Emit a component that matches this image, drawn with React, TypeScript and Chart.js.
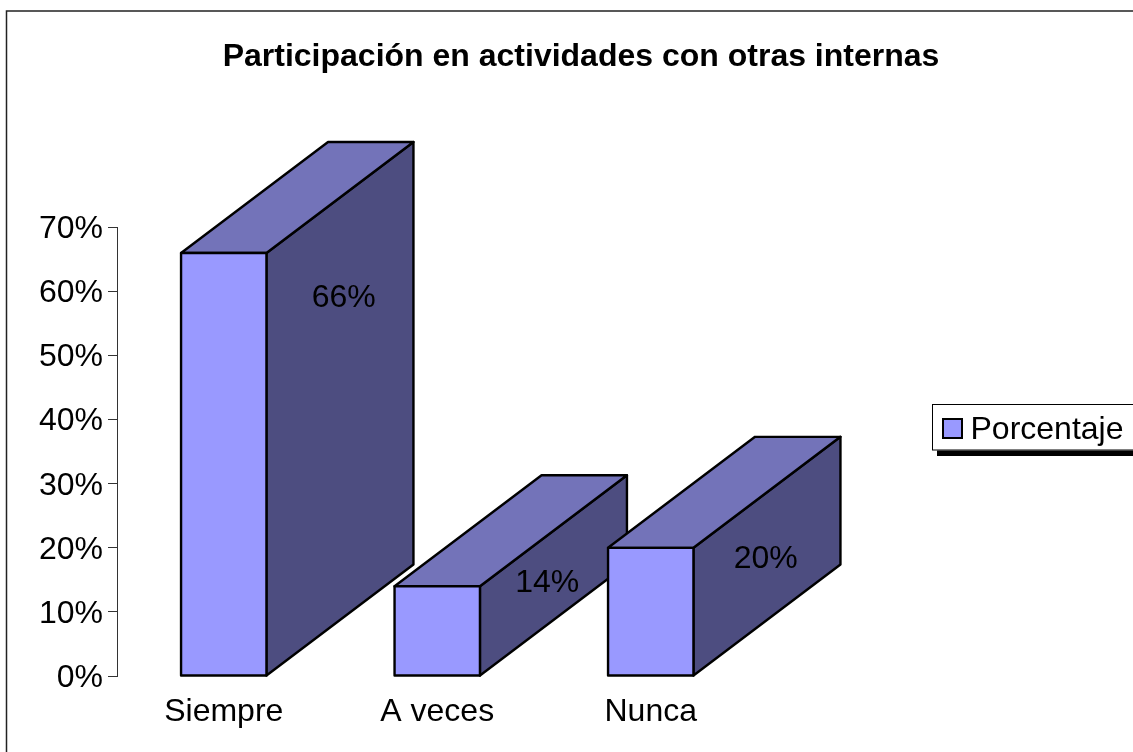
import React, { useEffect, useRef } from "react";
import { Chart, registerables } from "chart.js";

Chart.register(...registerables);

const categories = ["Siempre", "A veces", "Nunca"];
const percentages = [66, 14, 20];
const seriesName = "Porcentaje";
const chartTitle = "Participación en actividades con otras internas";

const FONT = "'Liberation Sans', Arial, sans-serif";
const FRONT = "#9999FF";
const TOP = "#7373B9";
const SIDE = "#4D4D80";
const DEPTH_X = 147;
const DEPTH_Y = 111;
const EDGE = 2.4;
const labelNudge = [
  { dx: 120, dy: 45 },
  { dx: 110, dy: -3 },
  { dx: 115, dy: 11 },
];

const framePlugin = {
  id: "frame",
  beforeDraw(chart: any) {
    const { ctx, width, height } = chart;
    ctx.save();
    ctx.fillStyle = "#fff";
    ctx.fillRect(0, 0, width, height);
    ctx.strokeStyle = "#222";
    ctx.lineWidth = 1.5;
    ctx.strokeRect(6.5, 11, width + 20, height + 20);
    ctx.restore();
  },
  afterLayout(chart: any) {
    // the title is centred over the whole picture, not over the plot
    if (chart.titleBlock) {
      chart.titleBlock.left = 29;
      chart.titleBlock.right = chart.width;
    }
  },
};

const faces3dPlugin = {
  id: "faces3d",
  beforeDatasetsDraw(chart: any) {
    const { ctx } = chart;
    const bars = chart.getDatasetMeta(0).data;
    ctx.save();
    ctx.strokeStyle = "#000";
    ctx.lineWidth = EDGE;
    ctx.lineJoin = "round";
    bars.forEach((bar: any) => {
      const { x, y, base, width } = bar.getProps(["x", "y", "base", "width"], true);
      const l = x - width / 2;
      const r = x + width / 2;
      ctx.fillStyle = SIDE;
      ctx.beginPath();
      ctx.moveTo(r, y);
      ctx.lineTo(r + DEPTH_X, y - DEPTH_Y);
      ctx.lineTo(r + DEPTH_X, base - DEPTH_Y);
      ctx.lineTo(r, base);
      ctx.closePath();
      ctx.fill();
      ctx.stroke();
      ctx.fillStyle = TOP;
      ctx.beginPath();
      ctx.moveTo(l, y);
      ctx.lineTo(l + DEPTH_X, y - DEPTH_Y);
      ctx.lineTo(r + DEPTH_X, y - DEPTH_Y);
      ctx.lineTo(r, y);
      ctx.closePath();
      ctx.fill();
      ctx.stroke();
    });
    ctx.restore();
  },
  afterDatasetsDraw(chart: any) {
    const { ctx } = chart;
    const bars = chart.getDatasetMeta(0).data;
    ctx.save();
    ctx.strokeStyle = "#000";
    ctx.lineWidth = EDGE;
    ctx.lineJoin = "round";
    bars.forEach((bar: any) => {
      const { x, y, base, width } = bar.getProps(["x", "y", "base", "width"], true);
      ctx.strokeRect(x - width / 2, y, width, base - y);
    });
    ctx.font = `32px ${FONT}`;
    ctx.fillStyle = "#000";
    ctx.textAlign = "center";
    ctx.textBaseline = "middle";
    bars.forEach((bar: any, i: number) => {
      const { x, y } = bar.getProps(["x", "y"], true);
      ctx.fillText(`${chart.data.datasets[0].data[i]}%`, x + labelNudge[i].dx, y + labelNudge[i].dy);
    });
    ctx.restore();
  },
};

const legendPlugin = {
  id: "boxLegend",
  afterDraw(chart: any) {
    const { ctx, width } = chart;
    ctx.save();
    ctx.fillStyle = "#000";
    ctx.fillRect(937, 450, width - 937, 6);
    ctx.fillStyle = "#fff";
    ctx.strokeStyle = "#000";
    ctx.lineWidth = 1;
    ctx.fillRect(933, 404.5, width, 46);
    ctx.strokeRect(932.5, 404.5, width, 45.5);
    ctx.fillStyle = FRONT;
    ctx.lineWidth = 2;
    ctx.fillRect(943, 419, 19, 19);
    ctx.strokeRect(943, 419, 19, 19);
    ctx.fillStyle = "#000";
    ctx.font = `32px ${FONT}`;
    ctx.textBaseline = "middle";
    ctx.textAlign = "left";
    ctx.fillText(chart.data.datasets[0].label, 970.5, 430);
    ctx.restore();
  },
};

export default function App() {
  const ref = useRef<HTMLCanvasElement>(null);
  useEffect(() => {
    const chart = new Chart(ref.current as HTMLCanvasElement, {
      type: "bar",
      data: {
        labels: categories,
        datasets: [
          {
            label: seriesName,
            data: percentages,
            backgroundColor: FRONT,
            borderWidth: 0,
            barPercentage: 0.4,
            categoryPercentage: 1,
          },
        ],
      },
      plugins: [framePlugin, faces3dPlugin, legendPlugin],
      options: {
        animation: false,
        responsive: false,
        layout: { padding: { left: 0, right: 375.5, top: 0, bottom: 0 } },
        scales: {
          x: {
            grid: { display: false },
            border: { display: false },
            ticks: { color: "#000", font: { family: FONT, size: 32 }, padding: 9, maxRotation: 0 },
            afterFit(scale: any) {
              scale.height = 76;
            },
          },
          y: {
            min: 0,
            max: 70,
            grid: { drawOnChartArea: false, drawTicks: true, tickLength: 9, color: "#333" },
            border: { display: true, color: "#333", width: 1 },
            ticks: {
              stepSize: 10,
              color: "#000",
              padding: 5,
              labelOffset: 2,
              font: { family: FONT, size: 32 },
              callback: (v: any) => `${v}%`,
            },
            afterFit(scale: any) {
              scale.width = 117;
            },
          },
        },
        plugins: {
          legend: { display: false },
          tooltip: { enabled: false },
          title: {
            display: true,
            text: chartTitle,
            color: "#000",
            font: { family: FONT, size: 32, weight: "bold", lineHeight: 1.2 },
            padding: { top: 37.5, bottom: 151.5 },
          },
        },
      },
    } as any);
    return () => chart.destroy();
  }, []);
  return (
    <div style={{ position: "absolute", left: 0, top: 0, width: 1133, height: 752, overflow: "hidden" }}>
      <canvas ref={ref} width={1133} height={752} style={{ display: "block" }} />
    </div>
  );
}
